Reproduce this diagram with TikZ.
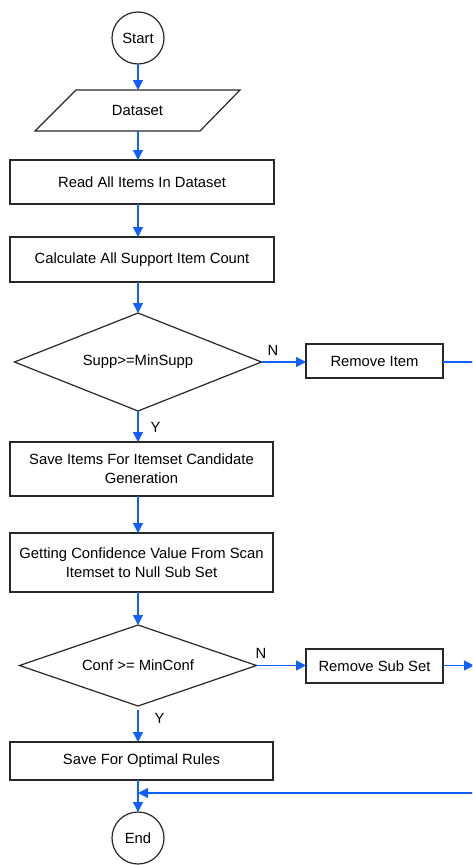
\documentclass[tikz,border=0pt]{standalone}
\usepackage{fontspec}
\setmainfont{Liberation Sans}
\usetikzlibrary{shapes.geometric,arrows.meta}
\definecolor{flowblue}{RGB}{16,96,255}
\definecolor{edgegray}{RGB}{40,40,40}
\begin{document}
\begin{tikzpicture}[x=1pt,y=-1pt,
  every node/.style={font=\fontsize{14.8}{19}\selectfont, text=black},
  boxnode/.style={draw=edgegray, line width=1.2pt, rectangle, inner sep=0pt, outer sep=0pt, align=center},
  roundnode/.style={draw=edgegray, line width=1.2pt, circle, minimum size=52pt, inner sep=0pt, outer sep=0pt},
  decnode/.style={draw=edgegray, line width=1.2pt, diamond, inner sep=0pt, outer sep=0pt},
  lbl/.style={inner sep=0pt},
  arr/.style={draw=flowblue, line width=1.2pt, -{Triangle[length=10pt,width=10pt]}},
  plainline/.style={draw=flowblue, line width=1.2pt}
]
\clip (0,0) rectangle (472,865);
\fill[white] (0,0) rectangle (472,865);

% shapes
\node[roundnode] (start) at (138,38) {Start};
\draw[edgegray, line width=1.2pt] (76,90) -- (240,90) -- (200,131) -- (35,131) -- cycle;
\node[inner sep=0pt, outer sep=0pt, minimum width=205pt, minimum height=41pt] (data) at (137.5,110.5) {Dataset};
\node[boxnode, minimum width=264pt, minimum height=44pt] (read) at (142,182) {Read All Items In Dataset};
\node[boxnode, minimum width=264pt, minimum height=45pt] (calc) at (142,259.5) {Calculate All Support Item Count};
\node[decnode, aspect=2.52, minimum width=247pt, minimum height=98pt] (supp) at (138,362) {Supp>=MinSupp};
\node[boxnode, minimum width=137pt, minimum height=34pt] (remitem) at (374.5,361) {Remove Item};
\node[boxnode, minimum width=263pt, minimum height=54pt] (saveitems) at (141.5,469) {Save Items For Itemset Candidate\\Generation};
\node[boxnode, minimum width=263pt, minimum height=59pt] (conf) at (141.5,562.5) {Getting Confidence Value From Scan\\Itemset to Null Sub Set};
\node[decnode, aspect=2.93, minimum width=237pt, minimum height=81pt] (minconf) at (138,665.5) {Conf >= MinConf};
\node[boxnode, minimum width=137pt, minimum height=34pt] (remsub) at (374.5,666) {Remove Sub Set};
\node[boxnode, minimum width=263pt, minimum height=38pt] (optimal) at (141.5,761) {Save For Optimal Rules};
\node[roundnode] (end) at (138,838) {End};

% labels
\node[lbl] (n1) at (273,350) {N};
\node[lbl] (y1) at (155.5,427) {Y};
\node[lbl] (n2) at (261,653) {N};
\node[lbl] (y2) at (159.5,718) {Y};

% free ends at the right edge
\coordinate (edge1) at (480,362);
\coordinate (edge2) at (474,665.5);
\coordinate (edge3) at (480,793);
\coordinate (join) at (138,793);

% connectors
\draw[arr] (start.south) -- (start.south |- data.north);
\draw[arr] (start.south |- data.south) -- (start.south |- read.north);
\draw[arr] (start.south |- read.south) -- (start.south |- calc.north);
\draw[arr] (start.south |- calc.south) -- (supp.north);
\draw[arr] (supp.east) -- (remitem.west |- supp.east);
\draw[plainline] (remitem.east |- edge1) -- (edge1);
\draw[arr] (supp.south) -- (supp.south |- saveitems.north);
\draw[arr] (supp.south |- saveitems.south) -- (supp.south |- conf.north);
\draw[arr] (supp.south |- conf.south) -- (minconf.north);
\draw[arr] (minconf.east) -- (remsub.west |- minconf.east);
\draw[arr] (remsub.east |- edge2) -- (edge2);
\draw[arr, shorten <=4pt] (minconf.south) -- (minconf.south |- optimal.north);
\draw[arr] (end.north |- optimal.south) -- (end.north);
\draw[arr] (edge3) -- (join);
\end{tikzpicture}
\end{document}
